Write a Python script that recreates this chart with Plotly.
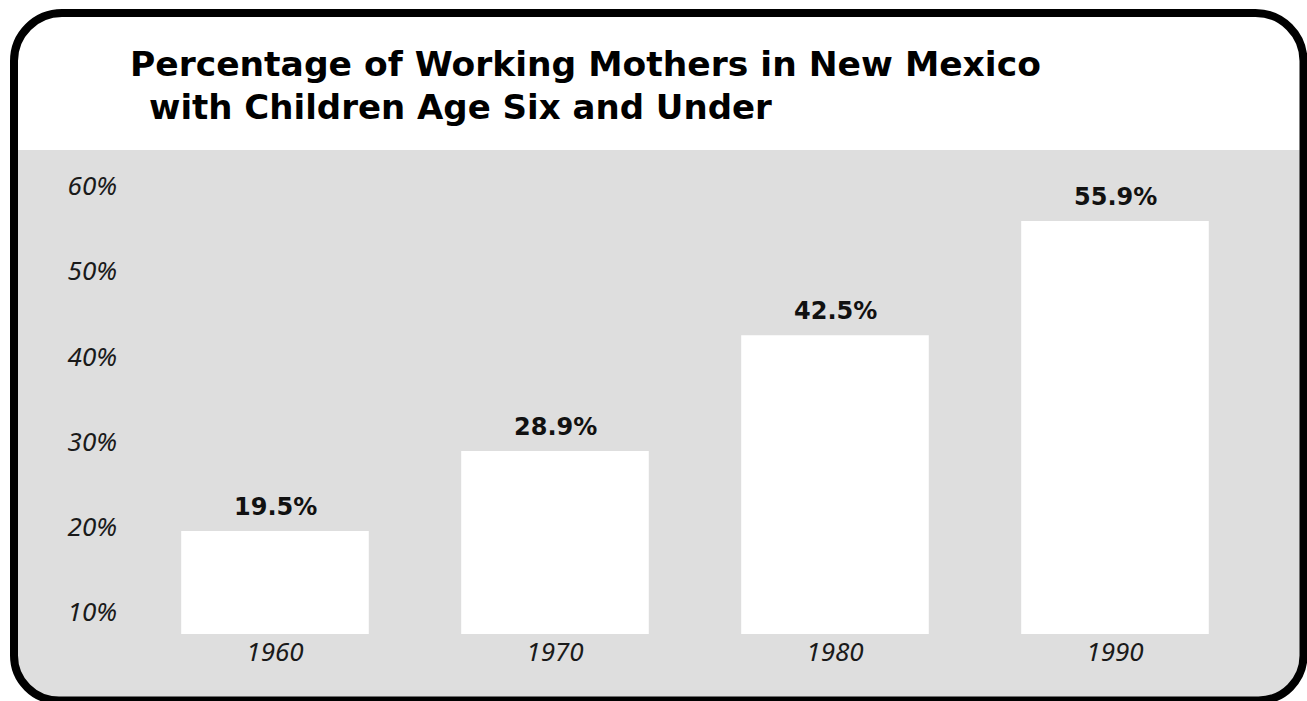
import plotly.graph_objects as go

# Data
years = ["1960", "1970", "1980", "1990"]
pct_working_mothers = [19.5, 28.9, 42.5, 55.9]
y_tick_values = [10, 20, 30, 40, 50, 60]
y_tick_labels = ["10%", "20%", "30%", "40%", "50%", "60%"]

title_line1 = "Percentage of Working Mothers in New Mexico"
title_line2 = "with Children Age Six and Under"

W, H = 1307, 701
GRAY = "#dedede"


def px(x):
    return x / W


def py(y):
    return 1 - y / H


def rounded_path(x0, y0, x1, y1, r_top, r_bot):
    """Rounded rectangle path in paper coordinates from pixel corners."""
    k = 0.5523
    pts = []
    pts.append(f"M {px(x0 + r_top)},{py(y0)}")
    pts.append(f"L {px(x1 - r_top)},{py(y0)}")
    if r_top:
        pts.append(
            f"C {px(x1 - r_top + k * r_top)},{py(y0)} {px(x1)},{py(y0 + r_top - k * r_top)} {px(x1)},{py(y0 + r_top)}"
        )
    pts.append(f"L {px(x1)},{py(y1 - r_bot)}")
    if r_bot:
        pts.append(
            f"C {px(x1)},{py(y1 - r_bot + k * r_bot)} {px(x1 - r_bot + k * r_bot)},{py(y1)} {px(x1 - r_bot)},{py(y1)}"
        )
    pts.append(f"L {px(x0 + r_bot)},{py(y1)}")
    if r_bot:
        pts.append(
            f"C {px(x0 + r_bot - k * r_bot)},{py(y1)} {px(x0)},{py(y1 - r_bot + k * r_bot)} {px(x0)},{py(y1 - r_bot)}"
        )
    pts.append(f"L {px(x0)},{py(y0 + r_top)}")
    if r_top:
        pts.append(
            f"C {px(x0)},{py(y0 + r_top - k * r_top)} {px(x0 + r_top - k * r_top)},{py(y0)} {px(x0 + r_top)},{py(y0)}"
        )
    pts.append("Z")
    return " ".join(pts)


fig = go.Figure(
    go.Bar(
        x=years,
        y=pct_working_mothers,
        marker=dict(color="white", line=dict(width=0)),
        hoverinfo="skip",
    )
)

# Value labels above each bar (category index positions on the x axis)
for i, v in enumerate(pct_working_mothers):
    fig.add_annotation(
        x=i,
        y=v,
        xref="x",
        yref="y",
        text=f"{v:.1f}%",
        showarrow=False,
        yanchor="bottom",
        yshift=8,
        font=dict(family="DejaVu Sans", size=24, color="#111111", weight="bold"),
    )

# Two-line title, second line indented slightly
fig.add_annotation(
    x=px(128), y=py(64), xref="paper", yref="paper",
    text=title_line1, showarrow=False, xanchor="left", yanchor="middle",
    font=dict(family="DejaVu Sans", size=34.5, color="black", weight="bold"),
)
fig.add_annotation(
    x=px(147), y=py(107), xref="paper", yref="paper",
    text=title_line2, showarrow=False, xanchor="left", yanchor="middle",
    font=dict(family="DejaVu Sans", size=34, color="black", weight="bold"),
)

# Gray panel behind the bars, and the rounded black frame
fig.add_shape(
    type="path", xref="paper", yref="paper", layer="below",
    path=rounded_path(14, 150, 1303.5, 700.5, 0, 45),
    fillcolor=GRAY, line=dict(width=0),
)
fig.add_shape(
    type="path", xref="paper", yref="paper", layer="above",
    path=rounded_path(14, 13, 1303.5, 700.5, 48, 45),
    fillcolor="rgba(0,0,0,0)", line=dict(color="black", width=8),
)

fig.update_layout(
    width=W,
    height=H,
    margin=dict(l=0, r=0, t=0, b=0, autoexpand=False),
    paper_bgcolor="white",
    plot_bgcolor="rgba(0,0,0,0)",
    bargap=0.33,
    showlegend=False,
    xaxis=dict(
        type="category",
        categoryorder="array",
        categoryarray=years,
        range=[-0.5, 3.5],
        domain=[px(135), px(1255)],
        automargin=False,
        showgrid=False,
        zeroline=False,
        showline=False,
        ticks="",
        tickfont=dict(family="Noto Sans", size=26, color="#1a1a1a", style="italic"),
        ticklabelstandoff=0,
    ),
    yaxis=dict(
        domain=[py(634), py(150)],
        range=[7.42, 64.23],
        automargin=False,
        tickvals=y_tick_values,
        ticktext=y_tick_labels,
        showgrid=False,
        zeroline=False,
        showline=False,
        ticks="",
        tickfont=dict(family="Noto Sans", size=26, color="#1a1a1a", style="italic"),
        ticklabelstandoff=17,
    ),
)

fig.write_html("out.html")
